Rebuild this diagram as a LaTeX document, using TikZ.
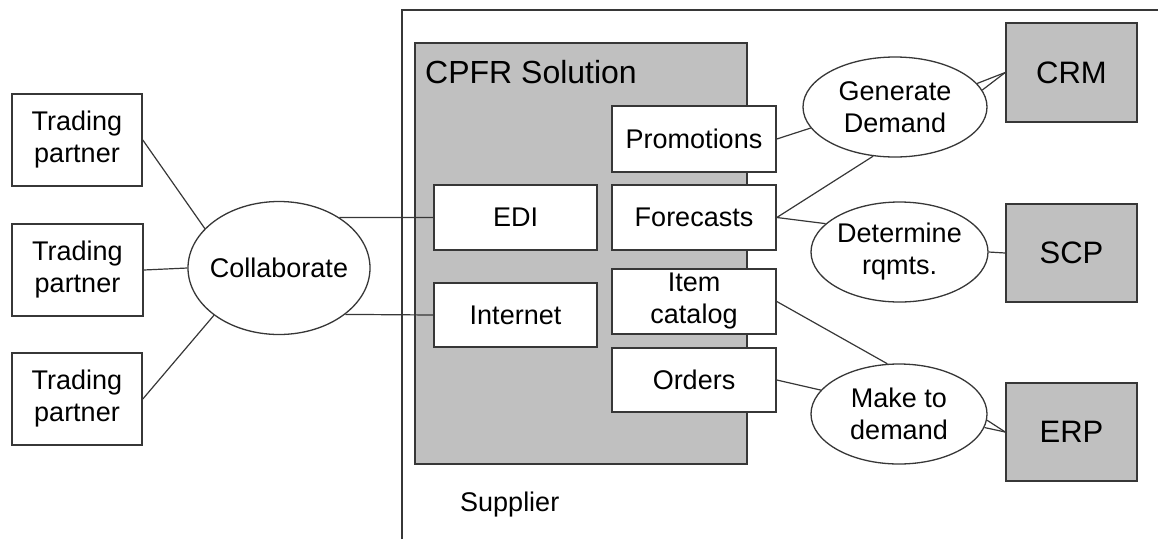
\documentclass[tikz,border=0pt]{standalone}
\usepackage{fontspec}
\setmainfont{Liberation Sans}
\usetikzlibrary{shapes.geometric}
\definecolor{panelgray}{RGB}{192,192,192}
\definecolor{edgegray}{RGB}{55,55,55}
\begin{document}
\begin{tikzpicture}[x=1pt,y=-1pt,
  labelfont/.style={font=\fontsize{27}{32}\selectfont},
  box/.style={rectangle, draw=edgegray, line width=1.6pt, fill=white,
    inner sep=0pt, align=center, labelfont},
  sysbox/.style={box, fill=panelgray, font=\fontsize{31}{34}\selectfont},
  tasktext/.style={labelfont, align=center, inner sep=0pt},
  task/.style={ellipse, draw=edgegray, line width=1.3pt, fill=white,
    inner sep=0pt, label={[tasktext]center:#1}},
  link/.style={draw=edgegray, line width=1.2pt},
  frame/.style={draw=edgegray, line width=1.4pt}]
\useasboundingbox (0,0) rectangle (1158,539);

% supplier enclosure (open to the right and bottom)
\coordinate (supBL) at (402,539);
\coordinate (supTL) at (402,10);
\coordinate (supTR) at (1158,10);
\draw[frame] (supBL) -- (supTL) -- (supTR);
\node[labelfont, anchor=west, inner sep=0pt] (suplabel) at (460,505) {Supplier};

% CPFR solution panel
\node[rectangle, draw=edgegray, line width=1.6pt, fill=panelgray,
  minimum width=332pt, minimum height=421pt, inner sep=0pt] (cpfr) at (581,253.5) {};
\node[font=\fontsize{32}{36}\selectfont, anchor=west, inner sep=0pt] (cpfrlabel) at (425,72) {CPFR Solution};

% trading partners
\node[box, minimum width=130pt, minimum height=92pt] (tp1) at (77,140) {Trading\\partner};
\node[box, minimum width=131pt, minimum height=92pt] (tp2) at (77.5,270) {Trading\\partner};
\node[box, minimum width=130pt, minimum height=92pt] (tp3) at (77,399) {Trading\\partner};

% channels
\node[box, minimum width=163pt, minimum height=65pt] (edi) at (515.5,217.5) {EDI};
\node[box, minimum width=163pt, minimum height=64pt] (inet) at (515.5,315) {Internet};

% CPFR data
\node[box, minimum width=164pt, minimum height=66pt] (promo) at (694,139) {Promotions};
\node[box, minimum width=164pt, minimum height=65pt] (fcst) at (694,217.5) {Forecasts};
\node[box, minimum width=164pt, minimum height=65pt] (item) at (694,301.5) {Item\\catalog};
\node[box, minimum width=164pt, minimum height=64pt] (orders) at (694,380) {Orders};

% processes
\node[task={Collaborate}, minimum width=182pt, minimum height=133pt] (collab) at (279,268) {};
\node[task={Generate\\Demand}, minimum width=184pt, minimum height=100pt] (gen) at (895,107) {};
\node[task={Determine\\rqmts.}, minimum width=177pt, minimum height=100pt] (det) at (899.5,252) {};
\node[task={Make to\\demand}, minimum width=176pt, minimum height=100pt] (mtd) at (899,414) {};

% back-end systems
\node[sysbox, minimum width=131pt, minimum height=99pt] (crm) at (1071.5,72.5) {CRM};
\node[sysbox, minimum width=131pt, minimum height=98pt] (scp) at (1071.5,253) {SCP};
\node[sysbox, minimum width=131pt, minimum height=98pt] (erp) at (1071.5,432) {ERP};

% connectors
\draw[link] (tp1.east) -- (collab.152.5);
\draw[link] (tp2.east) -- (collab.180);
\draw[link] (tp3.east) -- (collab.216.6);
\draw[link] (collab.40) -- (edi.west);
\draw[link] (collab.-35) -- (inet.west);
\draw[link] (promo.east) -- (gen.194.8);
\draw[link] (fcst.east) -- (gen.246.3);
\draw[link] (fcst.east) -- (det.159.9);
\draw[link] (det.0) -- (scp.west);
\draw[link] (item.east) -- (mtd.103.5);
\draw[link] (orders.east) -- (mtd.163.1);
\draw[link] (gen.16.3) -- (crm.west);
\draw[link] (gen.11.7) -- (crm.west);
\draw[link] (mtd.-4) -- (erp.west);
\draw[link] (mtd.-9) -- (erp.west);
\end{tikzpicture}
\end{document}
